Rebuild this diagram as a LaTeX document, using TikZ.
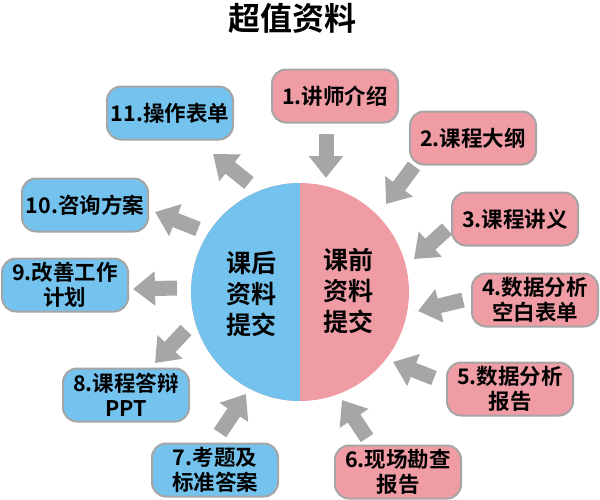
\documentclass[tikz,border=0pt]{standalone}
\usepackage{fontspec}
\usepackage{tikz}
\usetikzlibrary{arrows.meta}
\newfontfamily\cjk{Noto Sans CJK SC}[BoldFont={Noto Sans CJK SC Bold}]
\definecolor{prepink}{HTML}{F09CA5}
\definecolor{postblue}{HTML}{74C3EE}
\definecolor{rimgray}{HTML}{A5A5A5}
\definecolor{arrgray}{HTML}{A6A6A6}
\tikzset{
  itembox/.style={rounded corners=14pt,draw=rimgray,line width=2pt,
    minimum width=126pt,minimum height=53pt,inner sep=0pt,align=center,
    font=\cjk\bfseries\fontsize{21.5}{25}\selectfont},
  prebox/.style={itembox,fill=prepink},
  postbox/.style={itembox,fill=postblue},
  coretext/.style={align=center,font=\cjk\bfseries\fontsize{25}{31}\selectfont},
  blkarrow/.style={arrgray,line width=15pt,-{Triangle[width=33pt,length=22pt]}}
}
\begin{document}
\begin{tikzpicture}[x=1pt,y=-1pt]
\useasboundingbox (0,0) rectangle (600,499);
%Title
\node[font=\cjk\bfseries\fontsize{32}{32}\selectfont] (title) at (292,18) {超值资料};
%Centre disc
\node[circle,minimum size=218pt,inner sep=0pt,fill=prepink] (core) at (300,292) {};
\begin{scope}
\clip ([xshift=-120pt]core.north) rectangle (core.south);
\fill[postblue] (core.center) circle[radius=109pt];
\end{scope}
\node[coretext] (postlbl) at (251,294) {课后\\资料\\提交};
\node[coretext] (prelbl) at (348,291) {课前\\资料\\提交};
%Items before the course
\node[prebox] (b1) at (335,96) {1.讲师介绍};
\node[prebox] (b2) at (473,138) {2.课程大纲};
\node[prebox] (b3) at (515,219) {3.课程讲义};
\node[prebox] (b4) at (535,300) {4.数据分析\\空白表单};
\node[prebox] (b5) at (510,389) {5.数据分析\\报告};
\node[prebox] (b6) at (398,472) {6.现场勘查\\报告};
%Items after the course
\node[postbox] (b7) at (215,470) {7.考题及\\标准答案};
\node[postbox] (b8) at (126,395) {8.课程答辩\\PPT};
\node[postbox] (b9) at (65,285) {9.改善工作\\计划};
\node[postbox] (b10) at (85,205) {10.咨询方案};
\node[postbox] (b11) at (170,113) {11.操作表单};
%Arrow ends
\coordinate (t1) at (326,134);  \coordinate (h1) at (326,178);
\coordinate (t2) at (414,166);  \coordinate (h2) at (386,204);
\coordinate (t3) at (447,229);  \coordinate (h3) at (414,259);
\coordinate (t4) at (463,300);  \coordinate (h4) at (418,311);
\coordinate (t5) at (434,378);  \coordinate (h5) at (393,362);
\coordinate (t6) at (367,438);  \coordinate (h6) at (342,400);
\coordinate (t7) at (220,433);  \coordinate (h7) at (246,394);
\coordinate (t8) at (186,330);  \coordinate (h8) at (155,363);
\coordinate (t9) at (177,288);  \coordinate (h9) at (133,289);
\coordinate (t10) at (198,229); \coordinate (h10) at (155,212);
\coordinate (t11) at (249,183); \coordinate (h11) at (213,154);
\foreach \i in {1,...,11}
   \draw[blkarrow] (t\i) -- (h\i);
\end{tikzpicture}
\end{document}
